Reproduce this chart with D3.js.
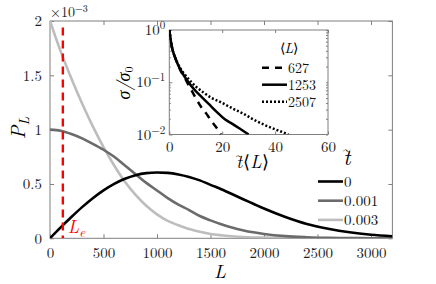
<!DOCTYPE html>
<html>
<head>
<meta charset="utf-8">
<script src="https://cdn.jsdelivr.net/npm/d3@7"></script>
<style>
  html, body { margin: 0; padding: 0; background: #fff; }
</style>
</head>
<body>
<svg id="chart" width="436" height="284"></svg>
<script>
// main panel: P_L (x 1e-3) against L
const lengths = [0, 100, 200, 300, 400, 500, 600, 700, 800, 900, 1000, 1100, 1200, 1300, 1400,
  1500, 1600, 1700, 1800, 1900, 2000, 2200, 2400, 2600, 2800, 3000, 3200];
const p0 = [0, 0.10, 0.196, 0.287, 0.369, 0.441, 0.501, 0.548, 0.581, 0.600, 0.606, 0.602, 0.588,
  0.565, 0.533, 0.492, 0.452, 0.408, 0.362, 0.318, 0.274, 0.196, 0.132, 0.088, 0.055, 0.033, 0.019];
const p001 = [1.0, 0.99, 0.96, 0.92, 0.87, 0.815, 0.75, 0.67, 0.59, 0.51, 0.44, 0.37, 0.31,
  0.26, 0.205, 0.165, 0.13, 0.10, 0.075, 0.055, 0.04, 0.02, 0.01, 0.004, 0.002, 0.001, 0.0005];
const p003 = [2.0, 1.72, 1.47, 1.24, 1.03, 0.84, 0.67, 0.52, 0.40, 0.30, 0.22, 0.16, 0.12,
  0.085, 0.06, 0.04, 0.028, 0.019, 0.012, 0.008, 0.006, 0.003, 0.0015, 0.001, 0.0005, 0.0002, 0];
const tLabels = ['0', '0.001', '0.003'];
const Le = 120;
const xTicks = [0, 500, 1000, 1500, 2000, 2500, 3000];
const yTicks = [0, 0.5, 1, 1.5, 2];

// inset: sigma/sigma0 against t<L>
const tL627 = [0, 1, 2, 3, 4, 6, 8, 10, 12, 14, 16, 18, 19.5];
const s627 = [1, 0.468, 0.316, 0.234, 0.178, 0.117, 0.0759, 0.0501, 0.0339, 0.0251, 0.0178, 0.0132, 0.01];
const tL1253 = [0, 1, 2, 3, 4, 6, 8, 10, 12, 15, 18, 21, 24, 27, 30];
const s1253 = [1, 0.468, 0.316, 0.234, 0.182, 0.123, 0.0891, 0.0676, 0.0537, 0.038, 0.0269, 0.0195, 0.0158, 0.0126, 0.01];
const tL2507 = [0, 1, 2, 3, 4, 6, 8, 10, 13, 16, 19, 22, 25, 28, 31, 34, 37, 40, 43, 45];
const s2507 = [1, 0.468, 0.316, 0.24, 0.191, 0.138, 0.105, 0.0832, 0.0631, 0.0501, 0.0427, 0.0355,
  0.0295, 0.0251, 0.0204, 0.017, 0.0145, 0.0126, 0.011, 0.01];
const meanLabels = ['627', '1253', '2507'];
const insetXTicks = [0, 20, 40, 60];
const insetYTicks = [1, 0.1, 0.01];

const serif = '"Latin Modern Roman", "Liberation Serif", serif';
const svg = d3.select('#chart');
const frame = '#7f7f7f';

const m = { left: 50, right: 392.4, top: 21, bottom: 238.3 };
const x = d3.scaleLinear().domain([0, 3200]).range([m.left, m.right]);
const y = d3.scaleLinear().domain([0, 2]).range([m.bottom, m.top]);

svg.append('clipPath').attr('id', 'clipMain')
  .append('rect').attr('x', m.left).attr('y', m.top)
  .attr('width', m.right - m.left).attr('height', m.bottom - m.top);

// axes with inner ticks
const axB = svg.append('g').attr('transform', `translate(0,${m.bottom})`)
  .call(d3.axisBottom(x).tickValues(xTicks).tickSizeInner(-4).tickSizeOuter(0).tickPadding(9)
    .tickFormat(d3.format('d')));
const axT = svg.append('g').attr('transform', `translate(0,${m.top})`)
  .call(d3.axisTop(x).tickValues(xTicks).tickSizeInner(-4).tickSizeOuter(0).tickFormat(''));
const axL = svg.append('g').attr('transform', `translate(${m.left},0)`)
  .call(d3.axisLeft(y).tickValues(yTicks).tickSizeInner(-4).tickSizeOuter(0).tickPadding(8)
    .tickFormat(d => d3.format('~g')(d)));
const axR = svg.append('g').attr('transform', `translate(${m.right},0)`)
  .call(d3.axisRight(y).tickValues(yTicks).tickSizeInner(-4).tickSizeOuter(0).tickFormat(''));
[axB, axT, axL, axR].forEach(a => {
  a.select('.domain').remove();
  a.selectAll('line').attr('stroke', frame);
  a.selectAll('text').attr('font-size', 15).attr('fill', '#222');
});
svg.append('rect').attr('x', m.left).attr('y', m.top)
  .attr('width', m.right - m.left).attr('height', m.bottom - m.top)
  .attr('fill', 'none').attr('stroke', frame).attr('stroke-width', 1);

// curves
const line = d3.line().x(d => x(d[0])).y(d => y(d[1])).curve(d3.curveMonotoneX);
const series = [
  { vals: p003, color: '#bdbdbd' },
  { vals: p001, color: '#6b6b6b' },
  { vals: p0, color: '#000' }
];
const gCurves = svg.append('g').attr('clip-path', 'url(#clipMain)');
series.forEach(s => {
  gCurves.append('path').datum(lengths.map((L, i) => [L, s.vals[i]]))
    .attr('d', line).attr('fill', 'none').attr('stroke', s.color).attr('stroke-width', 2.6);
});

// L_e marker
gCurves.append('line').attr('x1', x(Le)).attr('x2', x(Le)).attr('y1', y(1.94)).attr('y2', m.bottom)
  .attr('stroke', '#ff0000').attr('stroke-width', 2.4).attr('stroke-dasharray', '8,5');
const leText = svg.append('text').attr('x', x(Le) + 5).attr('y', 233).attr('fill', '#ff0000')
  .attr('font-size', 18).attr('font-style', 'italic').text('L');
leText.append('tspan').attr('font-size', 13).attr('dy', 4).text('e');

// axis labels
svg.append('text').attr('x', 220).attr('y', 278).attr('text-anchor', 'middle')
  .attr('font-size', 19).attr('font-style', 'italic').text('L');
const yl = svg.append('text').attr('transform', 'translate(25,128) rotate(-90)')
  .attr('text-anchor', 'middle').attr('font-size', 20).attr('font-style', 'italic').text('P');
yl.append('tspan').attr('font-size', 14).attr('dy', 4).text('L');
const mult = svg.append('text').attr('x', 50).attr('y', 17).attr('font-size', 14).attr('fill', '#222')
  .text('\u00d710');
mult.append('tspan').attr('font-size', 10).attr('dy', -5).text('\u22123');

// italic t with a tilde tspan set above it, inside one text element
function tTilde(sel, size) {
  const tw = size * 0.36, lift = size * 0.5, ts = size * 0.62;
  sel.append('tspan').attr('font-style', 'italic').attr('font-size', size).text('t');
  sel.append('tspan').attr('font-size', ts).attr('dx', -tw + size * 0.02).attr('dy', -lift).text('~');
  // move the pen back to just after the t
  return { back: tw - size * 0.02 - ts * 0.5 + 0.5, lift };
}

// main legend
const lt = svg.append('text').attr('x', 343).attr('y', 165);
tTilde(lt, 22);
const legendColors = [series[2].color, series[1].color, series[0].color];
tLabels.forEach((lab, i) => {
  const yy = 181.5 + i * 19.2;
  svg.append('line').attr('x1', 318).attr('x2', 343).attr('y1', yy).attr('y2', yy)
    .attr('stroke', legendColors[i]).attr('stroke-width', 2.6);
  svg.append('text').attr('x', 344).attr('y', yy + 5).attr('font-size', 15).attr('fill', '#111')
    .text(lab);
});

// inset
const im = { left: 169.3, right: 328, top: 30, bottom: 134.5 };
const ix = d3.scaleLinear().domain([0, 60]).range([im.left, im.right]);
const iy = d3.scaleLog().domain([0.01, 1]).range([im.bottom, im.top]);
svg.append('rect').attr('x', im.left).attr('y', im.top)
  .attr('width', im.right - im.left).attr('height', im.bottom - im.top).attr('fill', '#fff');
svg.append('clipPath').attr('id', 'clipInset')
  .append('rect').attr('x', im.left).attr('y', im.top)
  .attr('width', im.right - im.left).attr('height', im.bottom - im.top);

const minor = [];
[0.01, 0.1].forEach(b => { for (let k = 2; k <= 9; k++) minor.push(b * k); });
const iaB = svg.append('g').attr('transform', `translate(0,${im.bottom})`)
  .call(d3.axisBottom(ix).tickValues(insetXTicks).tickSizeInner(-3).tickSizeOuter(0).tickPadding(7));
const iaT = svg.append('g').attr('transform', `translate(0,${im.top})`)
  .call(d3.axisTop(ix).tickValues(insetXTicks).tickSizeInner(-3).tickSizeOuter(0).tickFormat(''));
const iaL = svg.append('g').attr('transform', `translate(${im.left},0)`)
  .call(d3.axisLeft(iy).tickValues(insetYTicks).tickSizeInner(-3).tickSizeOuter(0).tickFormat(''));
const iaLm = svg.append('g').attr('transform', `translate(${im.left},0)`)
  .call(d3.axisLeft(iy).tickValues(minor).tickSizeInner(-1.5).tickSizeOuter(0).tickFormat(''));
const iaR = svg.append('g').attr('transform', `translate(${im.right},0)`)
  .call(d3.axisRight(iy).tickValues(insetYTicks.concat(minor)).tickSizeInner(-2).tickSizeOuter(0).tickFormat(''));
[iaB, iaT, iaL, iaLm, iaR].forEach(a => {
  a.select('.domain').remove();
  a.selectAll('line').attr('stroke', frame);
  a.selectAll('text').attr('font-size', 15).attr('fill', '#222');
});
// log tick labels 10^n
insetYTicks.forEach(v => {
  const t = svg.append('text').attr('x', im.left - 4).attr('y', iy(v) + 5)
    .attr('text-anchor', 'end').attr('font-size', 15).attr('fill', '#222').text('10');
  t.append('tspan').attr('font-size', 11).attr('dy', -6)
    .text(String(Math.round(Math.log10(v))).replace('-', '\u2212'));
});
svg.append('rect').attr('x', im.left).attr('y', im.top)
  .attr('width', im.right - im.left).attr('height', im.bottom - im.top)
  .attr('fill', 'none').attr('stroke', frame).attr('stroke-width', 1);

const iline = d3.line().x(d => ix(d[0])).y(d => iy(d[1])).curve(d3.curveMonotoneX);
const insetSeries = [
  { t: tL627, s: s627, dash: '7,6' },
  { t: tL1253, s: s1253, dash: null },
  { t: tL2507, s: s2507, dash: '2,2' }
];
const gIn = svg.append('g').attr('clip-path', 'url(#clipInset)');
insetSeries.forEach(d => {
  gIn.append('path').datum(d.t.map((v, i) => [v, d.s[i]]))
    .attr('d', iline).attr('fill', 'none').attr('stroke', '#000').attr('stroke-width', 2.5)
    .attr('stroke-dasharray', d.dash);
});

// inset labels
const isl = svg.append('text').attr('transform', 'translate(130,83) rotate(-90)')
  .attr('text-anchor', 'middle').attr('font-size', 18).attr('font-style', 'italic').text('\u03c3/\u03c3');
isl.append('tspan').attr('font-size', 12).attr('font-style', 'normal').attr('dy', 3).text('0');
const ixl = svg.append('text').attr('x', 236).attr('y', 168).attr('font-size', 18);
const tk = tTilde(ixl, 18);
ixl.append('tspan').attr('dx', tk.back).attr('dy', tk.lift).text('\u27e8');
ixl.append('tspan').attr('font-style', 'italic').text('L');
ixl.append('tspan').text('\u27e9');

// inset legend
const il = svg.append('text').attr('x', 289).attr('y', 53).attr('text-anchor', 'middle').attr('font-size', 14);
il.append('tspan').text('\u27e8');
il.append('tspan').attr('font-style', 'italic').text('L');
il.append('tspan').text('\u27e9');
insetSeries.forEach((d, i) => {
  const yy = 67.7 + i * 17;
  svg.append('line').attr('x1', 262).attr('x2', 287).attr('y1', yy).attr('y2', yy)
    .attr('stroke', '#000').attr('stroke-width', 2.5).attr('stroke-dasharray', d.dash);
  svg.append('text').attr('x', 288).attr('y', yy + 5).attr('font-size', 14).attr('fill', '#111')
    .text(meanLabels[i]);
});

// every text in the LaTeX-like serif
svg.selectAll('text').style('font-family', serif);
</script>
</body>
</html>
